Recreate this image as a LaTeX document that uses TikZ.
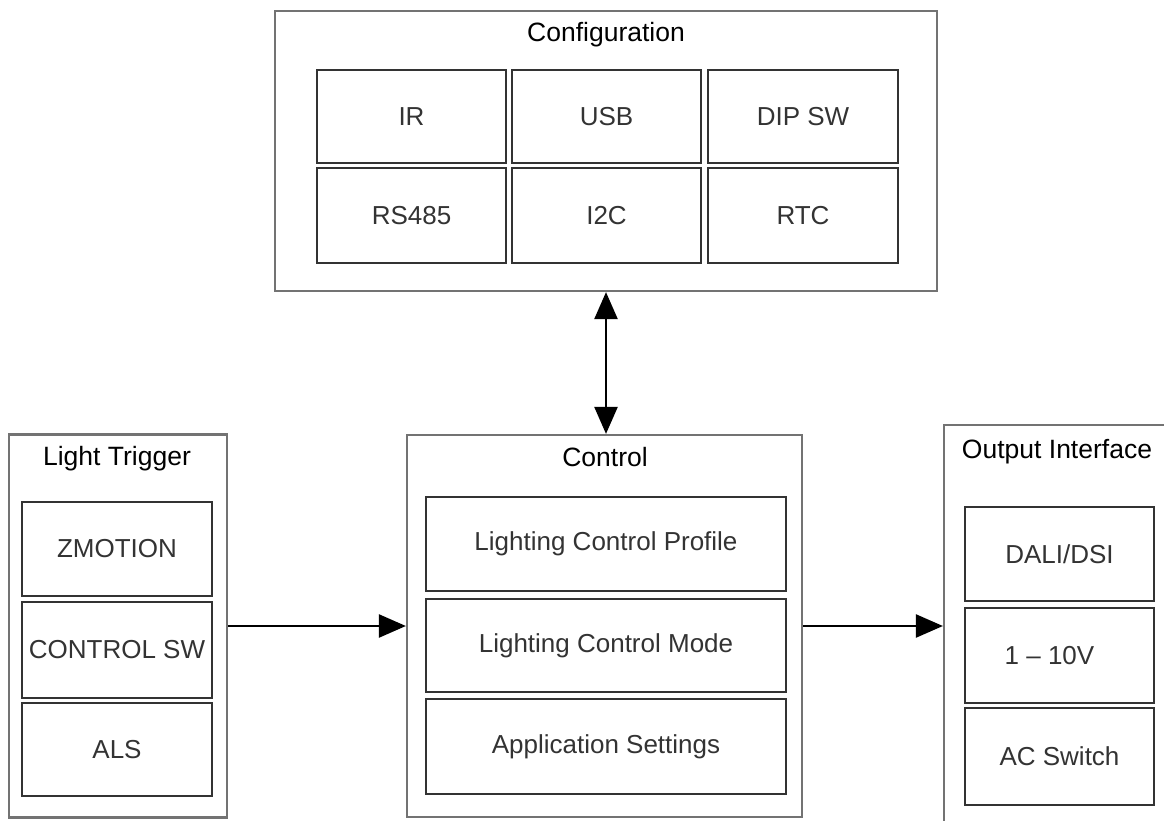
\documentclass[tikz,border=0pt]{standalone}
\usepackage{fontspec}
\setmainfont{Liberation Sans}
\usetikzlibrary{arrows.meta}
\begin{document}
\begin{tikzpicture}[x=1pt,y=-1pt,
  outerbox/.style={draw=black!55, line width=2.2pt, rectangle, inner sep=0pt},
  innerbox/.style={draw=black!80, line width=1.8pt, rectangle, inner sep=0pt, text=black!80,
     font=\fontsize{26}{30}\selectfont},
  titletext/.style={font=\fontsize{26.5}{30}\selectfont, text=black, inner sep=0pt},
  conn/.style={line width=2.4pt, -{Triangle[length=27pt,width=23pt]}},
  bconn/.style={line width=2.4pt, {Triangle[length=27pt,width=23pt]}-{Triangle[length=27pt,width=23pt]}}
]
\useasboundingbox (0,0) rectangle (1164,821);
\fill[white] (0,0) rectangle (1164,821);

% Configuration
\node[outerbox, minimum width=662pt, minimum height=280pt] (cfg) at (606,151) {};
\node[titletext] (cfgt) at (606,35) {Configuration};
\node[innerbox, minimum width=189pt, minimum height=93pt] (ir) at (411.5,116.5) {IR};
\node[innerbox, minimum width=189pt, minimum height=93pt] (usb) at (606.5,116.5) {USB};
\node[innerbox, minimum width=190pt, minimum height=93pt] (dip) at (803,116.5) {DIP SW};
\node[innerbox, minimum width=189pt, minimum height=95pt] (rs) at (411.5,215.5) {RS485};
\node[innerbox, minimum width=189pt, minimum height=95pt] (i2c) at (606.5,215.5) {I2C};
\node[innerbox, minimum width=190pt, minimum height=95pt] (rtc) at (803,215.5) {RTC};

% Control
\node[outerbox, minimum width=395pt, minimum height=382pt] (ctrl) at (604.5,626) {};
\node[titletext] (ctrlt) at (605,457) {Control};
\node[innerbox, minimum width=360pt, minimum height=94pt] (lcp) at (606,544) {Lighting Control Profile};
\node[innerbox, minimum width=360pt, minimum height=93pt] (lcm) at (606,645.5) {Lighting Control Mode};
\node[innerbox, minimum width=360pt, minimum height=95pt] (aps) at (606,746.5) {Application Settings};

% Light Trigger
\node[outerbox, minimum width=218pt, minimum height=383pt] (lt) at (118,626) {};
\node[titletext] (ltt) at (117,459) {Light Trigger};
\node[innerbox, minimum width=190pt, minimum height=94pt] (zm) at (117,549) {ZMOTION};
\node[innerbox, minimum width=190pt, minimum height=96pt] (csw) at (117,650) {CONTROL SW};
\node[innerbox, minimum width=190pt, minimum height=93pt] (als) at (117,749.5) {ALS};

% Output Interface
\node[outerbox, minimum width=256pt, minimum height=475pt] (out) at (1072,662.5) {};
\node[titletext] (outt) at (1057,452) {Output Interface};
\node[innerbox, minimum width=189pt, minimum height=94pt] (dali) at (1059.5,554) {DALI/DSI};
\node[innerbox, minimum width=189pt, minimum height=95pt] (v110) at (1059.5,655.5) {\hspace*{-20pt}1 – 10V};
\node[innerbox, minimum width=189pt, minimum height=97pt] (acs) at (1059.5,756.5) {AC Switch};

% Connectors
\draw[bconn] (cfg.south) -- (cfg.south |- ctrl.north);
\draw[conn] (lt.east) -- (ctrl.west);
\draw[conn] (ctrl.east) -- (ctrl.east -| out.west);
\end{tikzpicture}
\end{document}
